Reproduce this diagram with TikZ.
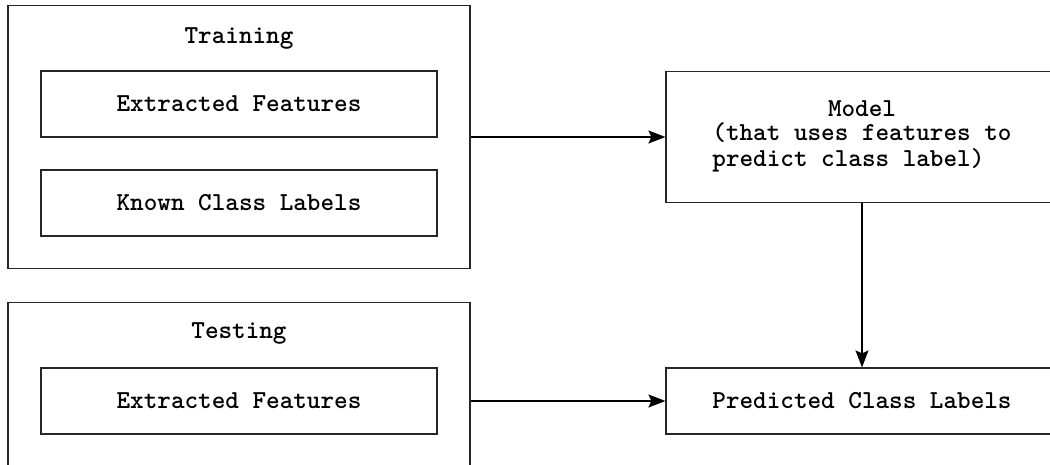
\documentclass[tikz,border=0pt]{standalone}
\usepackage{fontspec}
\usetikzlibrary{arrows.meta, calc}

\tikzset{
  box/.style = {draw = black!85, line width = 1.2pt, inner sep = 0pt},
  title/.style = {font = \ttfamily\bfseries\fontsize{25.9}{24.5}\selectfont},
  flow/.style = {line width = 1.2pt, -{Stealth[length = 17pt, width = 13pt, inset = 3pt]}}
}

\begin{document}
\begin{tikzpicture}[x = 1pt, y = -1pt]
  \clip (0,0) rectangle (1050,465);
  % training block
  \node[
  box,
  minimum width = 462pt,
  minimum height = 263pt
  ] (train) at (239,137){};
  \node[title] (trainlbl) at (239,38){Training};
  \node[
  box, title,
  minimum width = 396pt,
  minimum height = 66pt
  ] (feat1) at (239,104){Extracted Features};
  \node[
  box, title,
  minimum width = 396pt,
  minimum height = 66pt
  ] (known) at (239,203){Known Class Labels};
  % testing block
  \node[
  box,
  anchor = north,
  minimum width = 462pt,
  minimum height = 200pt
  ] (test) at (239,302){};
  \node[title] (testlbl) at (239,333){Testing};
  \node[
  box, title,
  minimum width = 396pt,
  minimum height = 66pt
  ] (feat2) at (239,401){Extracted Features};
  % model and output
  \node[
  box, title,
  align = center,
  minimum width = 392pt,
  minimum height = 131pt
  ] (model) at (862,137){Model\\\begin{tabular}[t]{@{}l@{}}(that uses features to\\predict class label)\end{tabular}};
  \node[
  box, title,
  minimum width = 392pt,
  minimum height = 66pt
  ] (pred) at (862,401){Predicted Class Labels};
  \draw[flow] (train.east |- model.west) to (model.west);
  \draw[flow] (test.east |- pred.west) to (pred.west);
  \draw[flow] (model.south) to (pred.north);
\end{tikzpicture}
\end{document}
